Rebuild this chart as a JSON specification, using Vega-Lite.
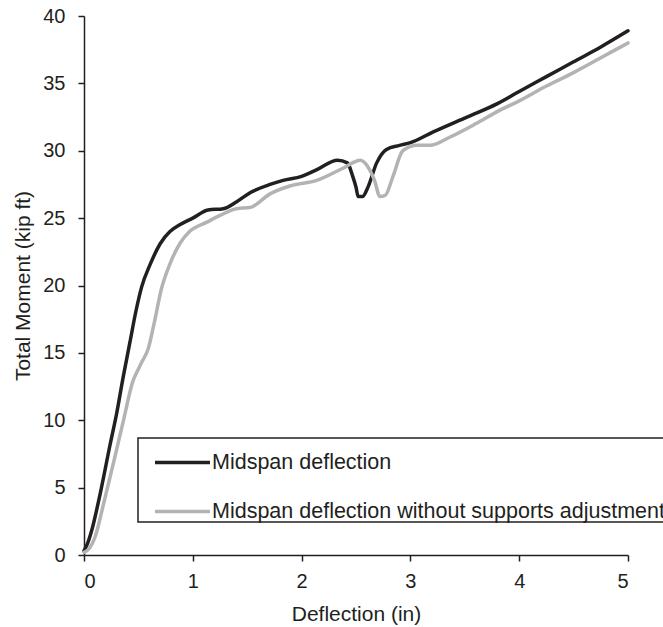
{
  "$schema": "https://vega.github.io/schema/vega-lite/v6.json",
  "width": 544,
  "height": 539,
  "autosize": "none",
  "padding": {"left": 84, "top": 16, "right": 35, "bottom": 72},
  "background": "white",
  "config": {
    "view": {"stroke": null},
    "font": "Liberation Sans",
    "axis": {
      "grid": false,
      "domainColor": "#231f20",
      "domainWidth": 1.5,
      "tickColor": "#231f20",
      "tickWidth": 1.5,
      "tickSize": 6,
      "labelFont": "Liberation Sans",
      "labelFontSize": 20,
      "labelColor": "#231f20",
      "titleFont": "Liberation Sans",
      "titleFontSize": 21,
      "titleFontWeight": "normal",
      "titleColor": "#231f20"
    }
  },
  "data": {
    "values": [
      {"s": "Midspan deflection", "i": 0, "x": 0.0, "y": 0.3},
      {"s": "Midspan deflection", "i": 1, "x": 0.03, "y": 0.8},
      {"s": "Midspan deflection", "i": 2, "x": 0.07, "y": 1.8},
      {"s": "Midspan deflection", "i": 3, "x": 0.15, "y": 4.6},
      {"s": "Midspan deflection", "i": 4, "x": 0.24, "y": 8.2},
      {"s": "Midspan deflection", "i": 5, "x": 0.3, "y": 10.5},
      {"s": "Midspan deflection", "i": 6, "x": 0.36, "y": 13.2},
      {"s": "Midspan deflection", "i": 7, "x": 0.42, "y": 15.7},
      {"s": "Midspan deflection", "i": 8, "x": 0.48, "y": 18.2},
      {"s": "Midspan deflection", "i": 9, "x": 0.53, "y": 19.9},
      {"s": "Midspan deflection", "i": 10, "x": 0.61, "y": 21.6},
      {"s": "Midspan deflection", "i": 11, "x": 0.7, "y": 23.1},
      {"s": "Midspan deflection", "i": 12, "x": 0.79, "y": 24.0},
      {"s": "Midspan deflection", "i": 13, "x": 0.88, "y": 24.5},
      {"s": "Midspan deflection", "i": 14, "x": 1.0, "y": 25.0},
      {"s": "Midspan deflection", "i": 15, "x": 1.14, "y": 25.6},
      {"s": "Midspan deflection", "i": 16, "x": 1.28, "y": 25.7},
      {"s": "Midspan deflection", "i": 17, "x": 1.4, "y": 26.2},
      {"s": "Midspan deflection", "i": 18, "x": 1.53, "y": 26.9},
      {"s": "Midspan deflection", "i": 19, "x": 1.71, "y": 27.5},
      {"s": "Midspan deflection", "i": 20, "x": 1.83, "y": 27.8},
      {"s": "Midspan deflection", "i": 21, "x": 2.0, "y": 28.1},
      {"s": "Midspan deflection", "i": 22, "x": 2.14, "y": 28.6},
      {"s": "Midspan deflection", "i": 23, "x": 2.33, "y": 29.3},
      {"s": "Midspan deflection", "i": 24, "x": 2.42, "y": 29.1},
      {"s": "Midspan deflection", "i": 25, "x": 2.47, "y": 28.1},
      {"s": "Midspan deflection", "i": 26, "x": 2.5, "y": 27.3},
      {"s": "Midspan deflection", "i": 27, "x": 2.52, "y": 26.6},
      {"s": "Midspan deflection", "i": 28, "x": 2.56, "y": 26.6},
      {"s": "Midspan deflection", "i": 29, "x": 2.61, "y": 27.3},
      {"s": "Midspan deflection", "i": 30, "x": 2.69, "y": 29.1},
      {"s": "Midspan deflection", "i": 31, "x": 2.78, "y": 30.1},
      {"s": "Midspan deflection", "i": 32, "x": 2.9, "y": 30.4},
      {"s": "Midspan deflection", "i": 33, "x": 3.0, "y": 30.6},
      {"s": "Midspan deflection", "i": 34, "x": 3.21, "y": 31.4},
      {"s": "Midspan deflection", "i": 35, "x": 3.52, "y": 32.5},
      {"s": "Midspan deflection", "i": 36, "x": 3.8, "y": 33.5},
      {"s": "Midspan deflection", "i": 37, "x": 4.0, "y": 34.4},
      {"s": "Midspan deflection", "i": 38, "x": 4.25, "y": 35.5},
      {"s": "Midspan deflection", "i": 39, "x": 4.5, "y": 36.6},
      {"s": "Midspan deflection", "i": 40, "x": 4.75, "y": 37.7},
      {"s": "Midspan deflection", "i": 41, "x": 5.0, "y": 38.9},
      {"s": "Midspan deflection without supports adjustment", "i": 0, "x": 0.0, "y": 0.2},
      {"s": "Midspan deflection without supports adjustment", "i": 1, "x": 0.05, "y": 0.5},
      {"s": "Midspan deflection without supports adjustment", "i": 2, "x": 0.1, "y": 1.3},
      {"s": "Midspan deflection without supports adjustment", "i": 3, "x": 0.18, "y": 3.8},
      {"s": "Midspan deflection without supports adjustment", "i": 4, "x": 0.27, "y": 6.8},
      {"s": "Midspan deflection without supports adjustment", "i": 5, "x": 0.36, "y": 9.9},
      {"s": "Midspan deflection without supports adjustment", "i": 6, "x": 0.45, "y": 12.9},
      {"s": "Midspan deflection without supports adjustment", "i": 7, "x": 0.5, "y": 13.8},
      {"s": "Midspan deflection without supports adjustment", "i": 8, "x": 0.53, "y": 14.3},
      {"s": "Midspan deflection without supports adjustment", "i": 9, "x": 0.59, "y": 15.3},
      {"s": "Midspan deflection without supports adjustment", "i": 10, "x": 0.65, "y": 17.4},
      {"s": "Midspan deflection without supports adjustment", "i": 11, "x": 0.71, "y": 19.7},
      {"s": "Midspan deflection without supports adjustment", "i": 12, "x": 0.79, "y": 21.6},
      {"s": "Midspan deflection without supports adjustment", "i": 13, "x": 0.88, "y": 23.1},
      {"s": "Midspan deflection without supports adjustment", "i": 14, "x": 0.97, "y": 24.0},
      {"s": "Midspan deflection without supports adjustment", "i": 15, "x": 1.13, "y": 24.7},
      {"s": "Midspan deflection without supports adjustment", "i": 16, "x": 1.25, "y": 25.2},
      {"s": "Midspan deflection without supports adjustment", "i": 17, "x": 1.4, "y": 25.7},
      {"s": "Midspan deflection without supports adjustment", "i": 18, "x": 1.53, "y": 25.8},
      {"s": "Midspan deflection without supports adjustment", "i": 19, "x": 1.71, "y": 26.8},
      {"s": "Midspan deflection without supports adjustment", "i": 20, "x": 1.9, "y": 27.4},
      {"s": "Midspan deflection without supports adjustment", "i": 21, "x": 2.14, "y": 27.8},
      {"s": "Midspan deflection without supports adjustment", "i": 22, "x": 2.38, "y": 28.7},
      {"s": "Midspan deflection without supports adjustment", "i": 23, "x": 2.54, "y": 29.3},
      {"s": "Midspan deflection without supports adjustment", "i": 24, "x": 2.61, "y": 28.8},
      {"s": "Midspan deflection without supports adjustment", "i": 25, "x": 2.67, "y": 27.8},
      {"s": "Midspan deflection without supports adjustment", "i": 26, "x": 2.72, "y": 26.6},
      {"s": "Midspan deflection without supports adjustment", "i": 27, "x": 2.77, "y": 26.7},
      {"s": "Midspan deflection without supports adjustment", "i": 28, "x": 2.84, "y": 28.1},
      {"s": "Midspan deflection without supports adjustment", "i": 29, "x": 2.93, "y": 30.0},
      {"s": "Midspan deflection without supports adjustment", "i": 30, "x": 3.06, "y": 30.4},
      {"s": "Midspan deflection without supports adjustment", "i": 31, "x": 3.18, "y": 30.4},
      {"s": "Midspan deflection without supports adjustment", "i": 32, "x": 3.36, "y": 31.0},
      {"s": "Midspan deflection without supports adjustment", "i": 33, "x": 3.6, "y": 32.0},
      {"s": "Midspan deflection without supports adjustment", "i": 34, "x": 3.82, "y": 33.0},
      {"s": "Midspan deflection without supports adjustment", "i": 35, "x": 4.0, "y": 33.7},
      {"s": "Midspan deflection without supports adjustment", "i": 36, "x": 4.25, "y": 34.8},
      {"s": "Midspan deflection without supports adjustment", "i": 37, "x": 4.5, "y": 35.8},
      {"s": "Midspan deflection without supports adjustment", "i": 38, "x": 4.75, "y": 36.9},
      {"s": "Midspan deflection without supports adjustment", "i": 39, "x": 5.0, "y": 38.0}
    ]
  },
  "mark": {"type": "line", "strokeWidth": 3.5, "interpolate": "monotone", "strokeCap": "round", "strokeJoin": "round"},
  "encoding": {
    "x": {
      "field": "x", "type": "quantitative",
      "scale": {"domain": [0, 5], "nice": false},
      "axis": {"title": "Deflection (in)", "values": [0, 1, 2, 3, 4, 5], "labelPadding": 10, "titlePadding": 12}
    },
    "y": {
      "field": "y", "type": "quantitative",
      "scale": {"domain": [0, 40], "nice": false},
      "axis": {"title": "Total Moment (kip ft)", "values": [0, 5, 10, 15, 20, 25, 30, 35, 40], "labelPadding": 13, "titlePadding": 9}
    },
    "order": {"field": "i", "type": "quantitative"},
    "color": {
      "field": "s", "type": "nominal",
      "scale": {"domain": ["Midspan deflection", "Midspan deflection without supports adjustment"], "range": ["#231f20", "#b3b3b3"]},
      "legend": {
        "title": " ",
        "titleFontSize": 8,
        "titlePadding": 6,
        "orient": "none",
        "legendX": 54,
        "legendY": 422,
        "strokeColor": "#231f20",
        "fillColor": "white",
        "padding": 0,
        "symbolType": "stroke",
        "symbolSize": 3025,
        "symbolOffset": 15,
        "clipHeight": 21,
        "symbolStrokeWidth": 3.5,
        "labelFontSize": 21.5,
        "labelColor": "#231f20",
        "labelFont": "Liberation Sans",
        "labelOffset": 0,
        "labelLimit": 700,
        "rowPadding": 27,
        "encode": {"legend": {"update": {"strokeWidth": {"value": 1.5}}}}
      }
    }
  }
}
